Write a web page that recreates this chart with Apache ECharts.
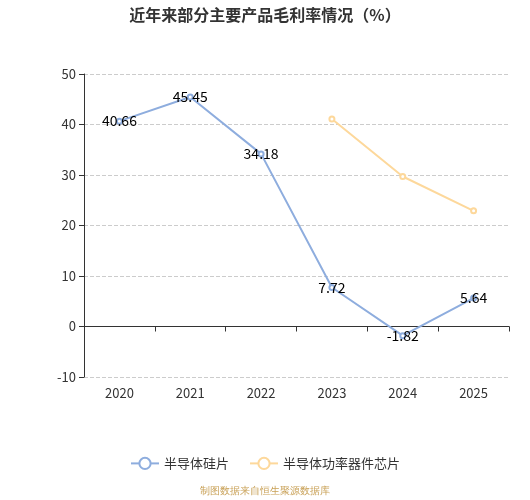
<!DOCTYPE html>
<html>
<head>
<meta charset="utf-8">
<script src="https://cdn.jsdelivr.net/npm/echarts@6/dist/echarts.min.js"></script>
<style>
html,body{margin:0;padding:0;background:#fff;}
#chart{width:530px;height:500px;}
</style>
</head>
<body>
<div id="chart"></div>
<script>
let years=['2020','2021','2022','2023','2024','2025'];
let siWafer=[40.66,45.45,34.18,7.72,-1.82,5.64];//半导体硅片
let powerChip=[null,null,null,41.1,29.7,22.9];//半导体功率器件芯片
let yTicks={min:-10,max:50,interval:10};

let myChart=echarts.init(document.getElementById('chart'));
option={
    textStyle:{fontFamily:'"Noto Sans CJK SC","Noto Sans",sans-serif'},
    title:{
        text:'近年来部分主要产品毛利率情况（%）',
        left:'center',
        top:2,
        textStyle:{fontSize:16,fontWeight:'bold',color:'#333'}
    },
    grid:{left:84,right:21,top:74,bottom:123},
    legend:{
        bottom:25,
        left:'center',
        itemGap:20,
        itemWidth:28,
        itemHeight:14,
        textStyle:{fontSize:13,color:'#333'},
        data:['半导体硅片','半导体功率器件芯片']
    },
    graphic:[{
        type:'text',
        left:'center',
        top:486,
        style:{text:'制图数据来自恒生聚源数据库',fill:'#c9a157',fontSize:10}
    }],
    xAxis:{
        type:'category',
        data:years,
        boundaryGap:true,
        axisLine:{onZero:true,lineStyle:{color:'#333'}},
        axisTick:{show:true,lineStyle:{color:'#333'}},
        axisLabel:{color:'#333',fontSize:13,margin:10},
        position:'bottom'
    },
    yAxis:{
        type:'value',
        min:yTicks.min,
        max:yTicks.max,
        interval:yTicks.interval,
        axisLine:{show:true,lineStyle:{color:'#333'}},
        axisTick:{show:true,lineStyle:{color:'#333'}},
        axisLabel:{color:'#333',fontSize:13},
        splitLine:{lineStyle:{type:'dashed',color:'#ccc'}}
    },
    series:[
        {
            name:'半导体硅片',
            type:'line',
            data:siWafer,
            symbol:'emptyCircle',
            symbolSize:5,
            itemStyle:{color:'#8eadde'},
            lineStyle:{width:2,color:'#8eadde'},
            label:{show:true,position:'inside',color:'#000',fontSize:14}
        },
        {
            name:'半导体功率器件芯片',
            type:'line',
            data:powerChip,
            symbol:'emptyCircle',
            symbolSize:5,
            itemStyle:{color:'#fdd89b'},
            lineStyle:{width:2,color:'#fdd89b'}
        }
    ]
};
myChart.setOption(option);
</script>
</body>
</html>
